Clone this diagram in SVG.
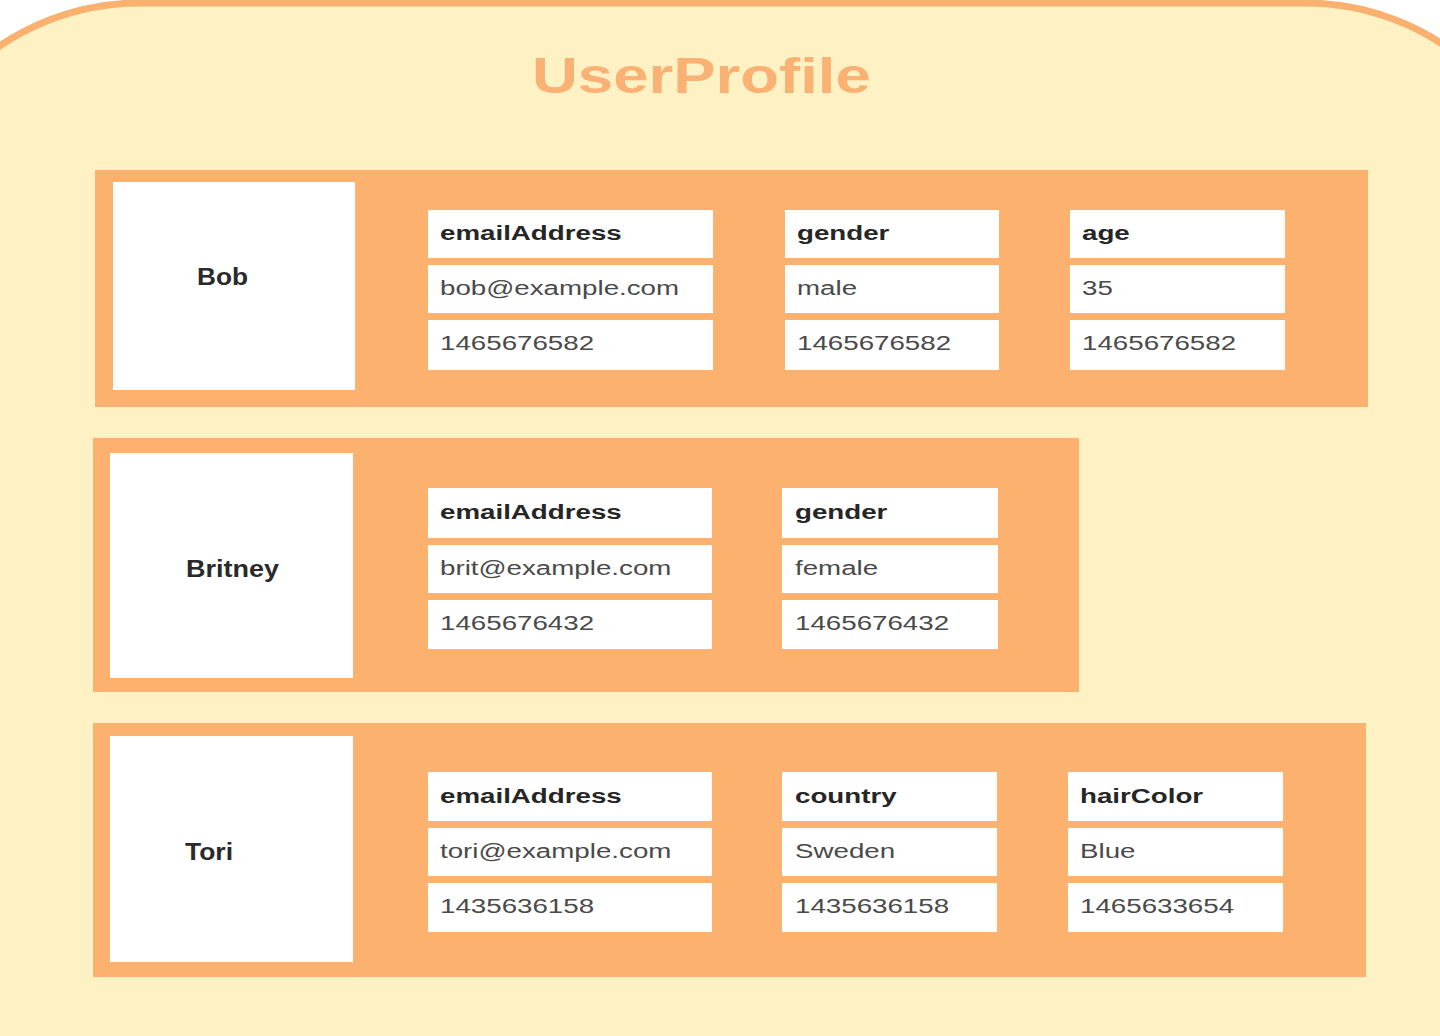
<svg xmlns="http://www.w3.org/2000/svg" width="1440" height="1036" viewBox="0 0 1440 1036">
<style>
.frame{fill:#FEF2C5;stroke:#FAB06E;stroke-width:7}
.band{fill:#FCB26E}
.box{fill:#FFFFFF}
.title{font-family:"Liberation Sans",Arial,sans-serif;font-weight:bold;font-size:50px;fill:#F9B274}
.name{font-family:"Liberation Sans",Arial,sans-serif;font-weight:bold;font-size:23px;fill:#2a2a2a}
.h{font-family:"Liberation Sans",Arial,sans-serif;font-weight:bold;font-size:21px;fill:#262626}
.v{font-family:"Liberation Sans",Arial,sans-serif;font-size:21px;fill:#4a4a4a}
</style>
<rect x="0" y="0" width="1440" height="1036" fill="#FFFFFF"/>
<rect class="frame" x="-110" y="3" width="1665" height="1120" rx="250" ry="250"/>
<g id="title">
<text class="title" transform="translate(532,93) scale(1.27,1)">UserProfile</text>
</g>
<g id="connectors"></g>
<g id="row-bob">
<rect class="band" x="95" y="170" width="1273" height="237"/>
<rect class="box" x="113" y="182" width="242" height="208"/>
<text class="name" x="197" y="285" textLength="51" lengthAdjust="spacingAndGlyphs">Bob</text>
<g id="bob-emailAddress">
<rect class="box" x="428" y="210" width="285" height="48"/>
<rect class="box" x="428" y="265" width="285" height="48"/>
<rect class="box" x="428" y="320" width="285" height="50"/>
<text class="h" transform="translate(440,240) scale(1.32,1)">emailAddress</text>
<text class="v" transform="translate(440,295) scale(1.32,1)">bob@example.com</text>
<text class="v" transform="translate(440,350) scale(1.32,1)">1465676582</text>
</g>
<g id="bob-gender">
<rect class="box" x="785" y="210" width="214" height="48"/>
<rect class="box" x="785" y="265" width="214" height="48"/>
<rect class="box" x="785" y="320" width="214" height="50"/>
<text class="h" transform="translate(797,240) scale(1.32,1)">gender</text>
<text class="v" transform="translate(797,295) scale(1.32,1)">male</text>
<text class="v" transform="translate(797,350) scale(1.32,1)">1465676582</text>
</g>
<g id="bob-age">
<rect class="box" x="1070" y="210" width="215" height="48"/>
<rect class="box" x="1070" y="265" width="215" height="48"/>
<rect class="box" x="1070" y="320" width="215" height="50"/>
<text class="h" transform="translate(1082,240) scale(1.32,1)">age</text>
<text class="v" transform="translate(1082,295) scale(1.32,1)">35</text>
<text class="v" transform="translate(1082,350) scale(1.32,1)">1465676582</text>
</g>
</g>
<g id="row-britney">
<rect class="band" x="93" y="438" width="986" height="254"/>
<rect class="box" x="110" y="453" width="243" height="225"/>
<text class="name" x="186" y="577" textLength="93" lengthAdjust="spacingAndGlyphs">Britney</text>
<g id="britney-emailAddress">
<rect class="box" x="428" y="488" width="284" height="50"/>
<rect class="box" x="428" y="545" width="284" height="48"/>
<rect class="box" x="428" y="600" width="284" height="49"/>
<text class="h" transform="translate(440,519) scale(1.32,1)">emailAddress</text>
<text class="v" transform="translate(440,575) scale(1.32,1)">brit@example.com</text>
<text class="v" transform="translate(440,630) scale(1.32,1)">1465676432</text>
</g>
<g id="britney-gender">
<rect class="box" x="782" y="488" width="216" height="50"/>
<rect class="box" x="782" y="545" width="216" height="48"/>
<rect class="box" x="782" y="600" width="216" height="49"/>
<text class="h" transform="translate(795,519) scale(1.32,1)">gender</text>
<text class="v" transform="translate(795,575) scale(1.32,1)">female</text>
<text class="v" transform="translate(795,630) scale(1.32,1)">1465676432</text>
</g>
</g>
<g id="row-tori">
<rect class="band" x="93" y="723" width="1273" height="254"/>
<rect class="box" x="110" y="736" width="243" height="226"/>
<text class="name" x="185" y="860" textLength="48" lengthAdjust="spacingAndGlyphs">Tori</text>
<g id="tori-emailAddress">
<rect class="box" x="428" y="772" width="284" height="49"/>
<rect class="box" x="428" y="828" width="284" height="48"/>
<rect class="box" x="428" y="883" width="284" height="49"/>
<text class="h" transform="translate(440,803) scale(1.32,1)">emailAddress</text>
<text class="v" transform="translate(440,858) scale(1.32,1)">tori@example.com</text>
<text class="v" transform="translate(440,913) scale(1.32,1)">1435636158</text>
</g>
<g id="tori-country">
<rect class="box" x="782" y="772" width="215" height="49"/>
<rect class="box" x="782" y="828" width="215" height="48"/>
<rect class="box" x="782" y="883" width="215" height="49"/>
<text class="h" transform="translate(795,803) scale(1.32,1)">country</text>
<text class="v" transform="translate(795,858) scale(1.32,1)">Sweden</text>
<text class="v" transform="translate(795,913) scale(1.32,1)">1435636158</text>
</g>
<g id="tori-hairColor">
<rect class="box" x="1068" y="772" width="215" height="49"/>
<rect class="box" x="1068" y="828" width="215" height="48"/>
<rect class="box" x="1068" y="883" width="215" height="49"/>
<text class="h" transform="translate(1080,803) scale(1.32,1)">hairColor</text>
<text class="v" transform="translate(1080,858) scale(1.32,1)">Blue</text>
<text class="v" transform="translate(1080,913) scale(1.32,1)">1465633654</text>
</g>
</g>
</svg>
